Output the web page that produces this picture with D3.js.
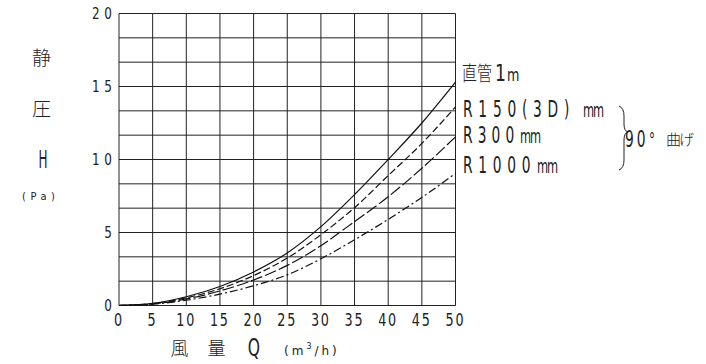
<!DOCTYPE html>
<html><head><meta charset="utf-8">
<script src="https://cdn.jsdelivr.net/npm/d3@7"></script>
<style>
html,body{margin:0;padding:0;background:#fff;}
text{font-family:"DejaVu Sans",sans-serif;fill:#222;}
.cjk{font-family:"Noto Sans CJK JP",sans-serif;font-weight:300;}
</style></head>
<body>
<svg id="c" width="706" height="364"></svg>
<script>
const flowQ = [0, 5, 10, 15, 20, 25, 30, 35, 40, 45, 50];
const straight1m = [0, 0.15, 0.6, 1.3, 2.3, 3.6, 5.4, 7.6, 10.0, 12.5, 15.3];
const r150 = [0, 0.13, 0.53, 1.15, 2.05, 3.25, 4.85, 6.7, 8.9, 11.1, 13.6];
const r300 = [0, 0.11, 0.45, 1.0, 1.75, 2.75, 4.1, 5.75, 7.45, 9.4, 11.55];
const r1000 = [0, 0.09, 0.36, 0.78, 1.35, 2.1, 3.2, 4.5, 5.9, 7.4, 9.05];
const seriesNames = ["直管1m", "R150(3D)mm", "R300mm", "R1000mm"];
const xTicks = [0, 5, 10, 15, 20, 25, 30, 35, 40, 45, 50];
const yTicks = [0, 5, 10, 15, 20];

const svg = d3.select("#c");
const x = d3.scaleLinear().domain([0, 50]).range([119, 455.5]);
const y = d3.scaleLinear().domain([0, 20]).range([305.5, 13.5]);

// condensed text helper: draws text horizontally squeezed by sx
function ctext(parent, o) {
  const t = parent.append("text")
    .attr("transform", `translate(${o.x},${o.y}) scale(${o.sx || 1},1)`)
    .attr("font-size", o.fs)
    .attr("text-anchor", o.anchor || "start");
  if (o.cls) t.attr("class", o.cls);
  if (o.w && String(o.text).length > 1) t.attr("textLength", o.w / (o.sx || 1)).attr("lengthAdjust", "spacing");
  t.text(o.text);
  return t;
}

// grid
const g = svg.append("g");
g.selectAll("line.v").data(d3.range(0, 51, 5)).join("line")
  .attr("x1", d => x(d)).attr("x2", d => x(d)).attr("y1", y(0)).attr("y2", y(20))
  .attr("stroke", "#222").attr("stroke-width", 1);
g.selectAll("line.h").data(d3.range(0, 13)).join("line")
  .attr("y1", d => y(d * 20 / 12)).attr("y2", d => y(d * 20 / 12)).attr("x1", x(0)).attr("x2", x(50))
  .attr("stroke", "#222").attr("stroke-width", 1);

// y tick labels
yTicks.forEach(d => ctext(svg, {x: 112, y: y(d) + 5.5, text: d, fs: 15, sx: 0.8, w: 20, anchor: "end"}));
// x tick labels
xTicks.forEach(d => ctext(svg, {x: x(d) - 1, y: 326, text: d, fs: 17, sx: 0.75, w: 18, anchor: "middle"}));

// curves
const series = [straight1m, r150, r300, r1000];
const dashes = [null, "7,3", "12,3", "8,3,2,3"];
const line = d3.line().x((d, i) => x(flowQ[i])).y(d => y(d)).curve(d3.curveMonotoneX);
series.forEach((s, k) => {
  svg.append("path").datum(s).attr("d", line)
    .attr("fill", "none").attr("stroke", "#111").attr("stroke-width", 1.2)
    .attr("stroke-dasharray", dashes[k]);
});

// legend labels
{
  const sx = 0.75;
  const t = svg.append("text").attr("transform", `translate(462,81) scale(${sx},1)`);
  t.append("tspan").attr("class", "cjk").attr("font-size", 20).attr("x", 0).text(seriesNames[0].slice(0, 2));
  t.append("tspan").attr("font-size", 23).attr("x", (495 - 462) / sx).text("1");
  t.append("tspan").attr("font-size", 17).attr("x", (507 - 462) / sx).text("m");
}
const legRows = [
  {name: seriesNames[1], base: 117, ls: 9.6, mm: 583},
  {name: seriesNames[2], base: 143, ls: 8.5, mm: 520},
  {name: seriesNames[3], base: 173, ls: 9.5, mm: 537}
];
legRows.forEach(r => {
  const sx = 0.6;
  const t = svg.append("text").attr("transform", `translate(463,${r.base}) scale(${sx},1)`);
  t.append("tspan").attr("font-size", 23).attr("letter-spacing", r.ls).attr("x", 0).text(r.name.replace("mm", ""));
  t.append("tspan").attr("font-size", 19).attr("letter-spacing", -2).attr("x", (r.mm - 463) / sx).text("mm");
});
// brace
svg.append("path")
  .attr("d", "M619,106 Q624,108 624,116 L624,124 Q624,131 628,132 Q624,133 624,140 L624,160 Q624,168 619,170")
  .attr("fill", "none").attr("stroke", "#222").attr("stroke-width", 1);
{
  const sx = 0.6;
  const t = svg.append("text").attr("transform", `translate(625,146.5) scale(${sx},1)`);
  t.append("tspan").attr("font-size", 23).attr("letter-spacing", 5).attr("x", 0).text("90");
  t.append("tspan").attr("font-size", 20).attr("x", (649 - 625) / sx).text("°");
}
svg.append("text").attr("class", "cjk").attr("font-weight", 400).attr("x", 666).attr("y", 145)
  .attr("font-size", 15).attr("textLength", 28).attr("lengthAdjust", "spacing").text("曲げ");

// y title
svg.append("text").attr("class", "cjk").attr("x", 41.5).attr("y", 65).attr("text-anchor", "middle").attr("font-size", 19).text("静");
svg.append("text").attr("class", "cjk").attr("x", 41.5).attr("y", 116).attr("text-anchor", "middle").attr("font-size", 19).text("圧");
ctext(svg, {x: 43, y: 168, text: "H", fs: 24, sx: 0.5, anchor: "middle"});
ctext(svg, {x: 38.5, y: 200, text: "(Pa)", fs: 11, sx: 0.9, w: 33, anchor: "middle"});

// x title
svg.append("text").attr("class", "cjk").attr("x", 179.5).attr("y", 355).attr("text-anchor", "middle").attr("font-size", 18).text("風");
svg.append("text").attr("class", "cjk").attr("x", 216.5).attr("y", 355).attr("text-anchor", "middle").attr("font-size", 18).text("量");
ctext(svg, {x: 254, y: 356, text: "Q", fs: 24, sx: 0.65, anchor: "middle"});
{
  const t = svg.append("text").attr("x", 284).attr("y", 355).attr("font-size", 12);
  t.append("tspan").attr("letter-spacing", 3).text("(m");
  t.append("tspan").attr("dy", -6).attr("font-size", 8).text("3");
  t.append("tspan").attr("dy", 6).attr("dx", 3).attr("letter-spacing", 3).text("/h)");
}
</script>
</body></html>
